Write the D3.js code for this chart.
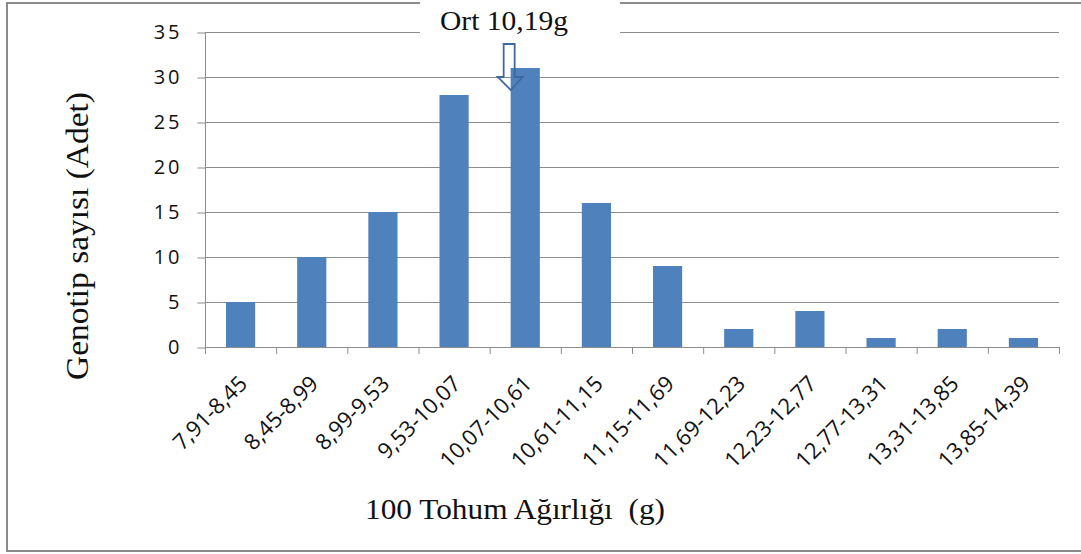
<!DOCTYPE html>
<html>
<head>
<meta charset="utf-8">
<script src="https://cdn.jsdelivr.net/npm/d3@7"></script>
<style>
  body { margin: 0; background: white; }
  svg { display: block; }
</style>
</head>
<body>
<div id="chart"></div>
<script>
var categories = ["7,91-8,45", "8,45-8,99", "8,99-9,53", "9,53-10,07", "10,07-10,61", "10,61-11,15",
                  "11,15-11,69", "11,69-12,23", "12,23-12,77", "12,77-13,31", "13,31-13,85", "13,85-14,39"];
var counts = [5, 10, 15, 28, 31, 16, 9, 2, 4, 1, 2, 1];
var yTicks = [0, 5, 10, 15, 20, 25, 30, 35];
var meanLabel = "Ort 10,19g";
var meanBin = "10,07-10,61";

var width = 1081, height = 554;
var plotLeft = 205, plotRight = 1059, plotTop = 32, plotBottom = 347;
var gridColor = "#8c8c8c";

var svg = d3.select("#chart").append("svg")
  .attr("width", width).attr("height", height);

// outer frame (right edge cut off in the picture)
svg.append("rect")
  .attr("x", 7).attr("y", 3).attr("width", 1090).attr("height", 548)
  .attr("fill", "white").attr("stroke", "#8a8a8a").attr("stroke-width", 2);

var x = d3.scaleBand().domain(categories).range([plotLeft, plotRight]).padding(0);
var y = d3.scaleLinear().domain([0, 35]).range([plotBottom, plotTop]);
var barW = x.bandwidth() * 0.41;

// gridlines
svg.append("g").selectAll("line").data(yTicks.filter(d => d > 0)).enter()
  .append("line")
  .attr("x1", plotLeft).attr("x2", plotRight)
  .attr("y1", d => y(d) + 0.5).attr("y2", d => y(d) + 0.5)
  .attr("stroke", gridColor).attr("stroke-width", 1);

// bars
svg.append("g").selectAll("rect").data(counts).enter()
  .append("rect")
  .attr("x", (d, i) => x(categories[i]) + (x.bandwidth() - barW) / 2)
  .attr("y", d => y(d))
  .attr("width", barW)
  .attr("height", d => y(0) - y(d))
  .attr("fill", "#4f81bd");

// y axis
var yAxis = svg.append("g").attr("transform", "translate(" + (plotLeft + 0.5) + ",0.5)")
  .call(d3.axisLeft(y).tickValues(yTicks).tickSize(8).tickPadding(15).tickFormat(d3.format("d")));
yAxis.select(".domain").attr("stroke", gridColor).attr("d", "M0," + plotTop + "V" + plotBottom);
yAxis.selectAll(".tick line").attr("stroke", gridColor);
yAxis.selectAll(".tick text")
  .attr("font-family", "'Open Sans', sans-serif").attr("font-size", 20)
  .attr("letter-spacing", 3).attr("fill", "#111");

// x axis baseline and boundary ticks
var xAxis = svg.append("g");
xAxis.append("line")
  .attr("x1", plotLeft).attr("x2", plotRight + 1)
  .attr("y1", plotBottom + 0.5).attr("y2", plotBottom + 0.5)
  .attr("stroke", gridColor);
xAxis.selectAll("line.bt").data(categories.concat([null])).enter()
  .append("line").attr("class", "bt")
  .attr("x1", (d, i) => (i < categories.length ? x(d) : plotRight) + 0.5)
  .attr("x2", (d, i) => (i < categories.length ? x(d) : plotRight) + 0.5)
  .attr("y1", plotBottom).attr("y2", plotBottom + 7)
  .attr("stroke", gridColor);
xAxis.selectAll("text").data(categories).enter()
  .append("text")
  .attr("transform", d => "translate(" + (x(d) + x.bandwidth() / 2 + 8) + "," + (plotBottom + 38) + ") rotate(-45)")
  .attr("text-anchor", "end")
  .attr("font-family", "'Open Sans', sans-serif").attr("font-size", 22)
  .attr("fill", "#111")
  .text(d => d);

// axis titles
svg.append("text")
  .attr("transform", "translate(88,236) rotate(-90)")
  .attr("text-anchor", "middle")
  .attr("font-family", "'Liberation Serif', serif").attr("font-size", 31).attr("fill", "#111")
  .attr("textLength", 288).attr("lengthAdjust", "spacingAndGlyphs")
  .text("Genotip sayısı (Adet)");
svg.append("text")
  .attr("x", 515).attr("y", 519)
  .attr("text-anchor", "middle")
  .attr("font-family", "'Liberation Serif', serif").attr("font-size", 29).attr("fill", "#111")
  .attr("textLength", 300).attr("lengthAdjust", "spacingAndGlyphs")
  .attr("xml:space", "preserve")
  .text("100 Tohum Ağırlığı  (g)");

// mean label box
svg.append("rect").attr("x", 420).attr("y", 0).attr("width", 200).attr("height", 33).attr("fill", "white");
svg.append("text")
  .attr("x", 504).attr("y", 30)
  .attr("text-anchor", "middle")
  .attr("font-family", "'Liberation Serif', serif").attr("font-size", 27).attr("fill", "#111")
  .attr("textLength", 128).attr("lengthAdjust", "spacingAndGlyphs")
  .text(meanLabel);

// hollow arrow pointing at mean bin
var tipX = x(meanBin) + (x.bandwidth() - barW) / 2;
var arrow = [[-7, 44], [4, 44], [4, 77], [12, 77], [0, 90], [-13, 77], [-7, 77]];
svg.append("path")
  .attr("d", "M" + arrow.map(p => (tipX + p[0]) + "," + p[1]).join("L") + "Z")
  .attr("fill", "none").attr("stroke", "#3d6a9e").attr("stroke-width", 1.8);
</script>
</body>
</html>
